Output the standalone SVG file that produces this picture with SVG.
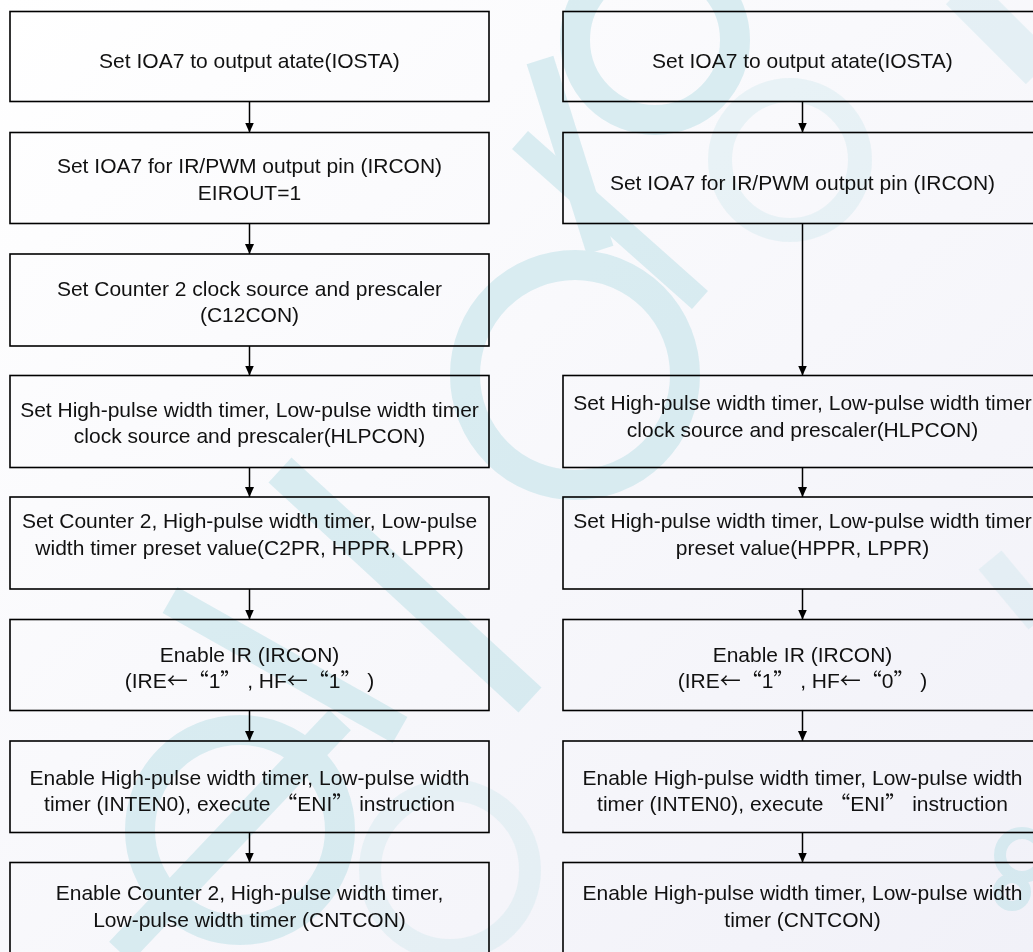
<svg xmlns="http://www.w3.org/2000/svg" width="1033" height="952" viewBox="0 0 1033 952">
<defs>
<linearGradient id="bg" x1="0" y1="0" x2="1" y2="1">
<stop offset="0" stop-color="#ffffff"/>
<stop offset="1" stop-color="#f1f1f8"/>
</linearGradient>
<marker id="ah" viewBox="0 0 10 9" refX="10" refY="4.5" markerWidth="10" markerHeight="10" markerUnits="userSpaceOnUse" orient="auto">
<path d="M0,0 L10,4.5 L0,9 Z" fill="#000"/>
</marker>
<style>
.box{fill:none;stroke:#000;stroke-width:1.6}
.t{font-family:"Liberation Sans",Arial,sans-serif;font-size:21px;fill:#111;text-anchor:middle}
.cjk{font-family:"Noto Sans CJK SC",sans-serif}
.wm{fill:none;stroke:#c3e3ea;stroke-linecap:butt}
.c{stroke:#000;stroke-width:1.5;fill:none;marker-end:url(#ah)}
</style>
</defs>
<rect x="0" y="0" width="1033" height="952" fill="url(#bg)"/>
<g id="watermark" opacity="0.6">
<circle class="wm" cx="655" cy="40" r="80" stroke-width="30"/>
<line class="wm" x1="540" y1="60" x2="600" y2="250" stroke-width="28"/>
<line class="wm" x1="520" y1="140" x2="700" y2="300" stroke-width="24"/>
<circle class="wm" cx="790" cy="160" r="70" stroke-width="24" opacity="0.5"/>
<circle class="wm" cx="575" cy="375" r="110" stroke-width="30"/>
<line class="wm" x1="280" y1="470" x2="530" y2="700" stroke-width="34"/>
<line class="wm" x1="170" y1="600" x2="400" y2="730" stroke-width="30"/>
<circle class="wm" cx="240" cy="830" r="100" stroke-width="30"/>
<line class="wm" x1="120" y1="952" x2="340" y2="720" stroke-width="30"/>
<circle class="wm" cx="450" cy="870" r="80" stroke-width="22" opacity="0.5"/>
<line class="wm" x1="960" y1="-10" x2="1040" y2="70" stroke-width="40" opacity="0.6"/>
<line class="wm" x1="990" y1="560" x2="1040" y2="620" stroke-width="30" opacity="0.5"/>
<circle class="wm" cx="1022" cy="855" r="22" stroke-width="12"/>
<circle class="wm" cx="1012" cy="892" r="14" stroke-width="10"/>
</g>
<g id="connectors">
<line class="c" x1="249.5" y1="101.5" x2="249.5" y2="132.5"/>
<line class="c" x1="249.5" y1="223.5" x2="249.5" y2="254"/>
<line class="c" x1="249.5" y1="346" x2="249.5" y2="375.5"/>
<line class="c" x1="249.5" y1="467.5" x2="249.5" y2="497"/>
<line class="c" x1="249.5" y1="589" x2="249.5" y2="619.5"/>
<line class="c" x1="249.5" y1="710.5" x2="249.5" y2="741"/>
<line class="c" x1="249.5" y1="832.5" x2="249.5" y2="862.5"/>
<line class="c" x1="802.5" y1="101.5" x2="802.5" y2="132.5"/>
<line class="c" x1="802.5" y1="223.5" x2="802.5" y2="375.5"/>
<line class="c" x1="802.5" y1="467.5" x2="802.5" y2="497"/>
<line class="c" x1="802.5" y1="589" x2="802.5" y2="619.5"/>
<line class="c" x1="802.5" y1="710.5" x2="802.5" y2="741"/>
<line class="c" x1="802.5" y1="832.5" x2="802.5" y2="862.5"/>
</g>
<g id="L1"><rect class="box" x="10" y="11.5" width="479" height="90"/><text class="t" x="249.5" y="68">Set IOA7 to output atate(IOSTA)</text></g>
<g id="L2"><rect class="box" x="10" y="132.5" width="479" height="91"/><text class="t" x="249.5" y="173">Set IOA7 for IR/PWM output pin (IRCON)</text><text class="t" x="249.5" y="200">EIROUT=1</text></g>
<g id="L3"><rect class="box" x="10" y="254" width="479" height="92"/><text class="t" x="249.5" y="296">Set Counter 2 clock source and prescaler</text><text class="t" x="249.5" y="322">(C12CON)</text></g>
<g id="L4"><rect class="box" x="10" y="375.5" width="479" height="92"/><text class="t" x="249.5" y="417">Set High-pulse width timer, Low-pulse width timer</text><text class="t" x="249.5" y="443">clock source and prescaler(HLPCON)</text></g>
<g id="L5"><rect class="box" x="10" y="497" width="479" height="92"/><text class="t" x="249.5" y="528">Set Counter 2, High-pulse width timer, Low-pulse</text><text class="t" x="249.5" y="555">width timer preset value(C2PR, HPPR, LPPR)</text></g>
<g id="L6"><rect class="box" x="10" y="619.5" width="479" height="91"/><text class="t" x="249.5" y="662">Enable IR (IRCON)</text><text class="t" x="249.5" y="688">(IRE<tspan class="cjk">←</tspan><tspan class="cjk">“</tspan>1<tspan class="cjk">”</tspan> , HF<tspan class="cjk">←</tspan><tspan class="cjk">“</tspan>1<tspan class="cjk">”</tspan> )</text></g>
<g id="L7"><rect class="box" x="10" y="741" width="479" height="91.5"/><text class="t" x="249.5" y="785">Enable High-pulse width timer, Low-pulse width</text><text class="t" x="249.5" y="811">timer (INTEN0), execute <tspan class="cjk">“</tspan>ENI<tspan class="cjk">”</tspan> instruction</text></g>
<g id="L8"><rect class="box" x="10" y="862.5" width="479" height="100"/><text class="t" x="249.5" y="900">Enable Counter 2, High-pulse width timer,</text><text class="t" x="249.5" y="927">Low-pulse width timer (CNTCON)</text></g>
<g id="R1"><rect class="box" x="563" y="11.5" width="479" height="90"/><text class="t" x="802.5" y="68">Set IOA7 to output atate(IOSTA)</text></g>
<g id="R2"><rect class="box" x="563" y="132.5" width="479" height="91"/><text class="t" x="802.5" y="190">Set IOA7 for IR/PWM output pin (IRCON)</text></g>
<g id="R3"><rect class="box" x="563" y="375.5" width="479" height="92"/><text class="t" x="802.5" y="410">Set High-pulse width timer, Low-pulse width timer</text><text class="t" x="802.5" y="437">clock source and prescaler(HLPCON)</text></g>
<g id="R4"><rect class="box" x="563" y="497" width="479" height="92"/><text class="t" x="802.5" y="528">Set High-pulse width timer, Low-pulse width timer</text><text class="t" x="802.5" y="555">preset value(HPPR, LPPR)</text></g>
<g id="R5"><rect class="box" x="563" y="619.5" width="479" height="91"/><text class="t" x="802.5" y="662">Enable IR (IRCON)</text><text class="t" x="802.5" y="688">(IRE<tspan class="cjk">←</tspan><tspan class="cjk">“</tspan>1<tspan class="cjk">”</tspan> , HF<tspan class="cjk">←</tspan><tspan class="cjk">“</tspan>0<tspan class="cjk">”</tspan> )</text></g>
<g id="R6"><rect class="box" x="563" y="741" width="479" height="91.5"/><text class="t" x="802.5" y="785">Enable High-pulse width timer, Low-pulse width</text><text class="t" x="802.5" y="811">timer (INTEN0), execute <tspan class="cjk">“</tspan>ENI<tspan class="cjk">”</tspan> instruction</text></g>
<g id="R7"><rect class="box" x="563" y="862.5" width="479" height="100"/><text class="t" x="802.5" y="900">Enable High-pulse width timer, Low-pulse width</text><text class="t" x="802.5" y="927">timer (CNTCON)</text></g>
</svg>
